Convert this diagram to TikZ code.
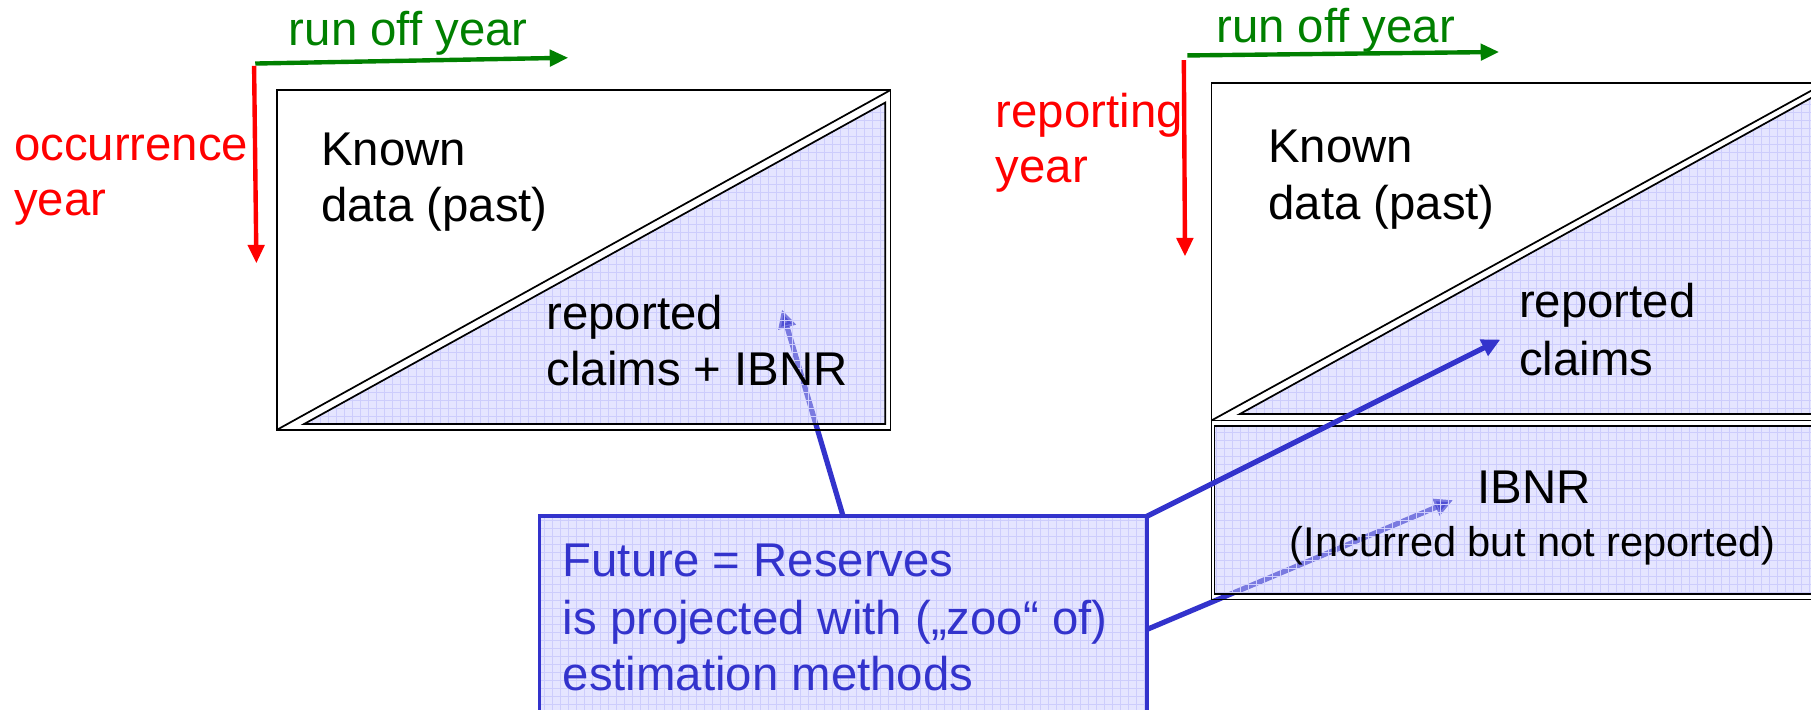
\documentclass[tikz,border=0pt]{standalone}
\usepackage{fontspec}
\setmainfont{Liberation Sans}
\usetikzlibrary{arrows.meta}
\definecolor{grn}{RGB}{0,128,0}
\definecolor{rd}{RGB}{255,0,0}
\definecolor{bl}{RGB}{51,51,204}
\definecolor{lav}{RGB}{229,229,255}
\definecolor{gridc}{RGB}{205,205,252}
\begin{document}
\begin{tikzpicture}[x=1pt,y=-1pt,
  lbl/.style={font=\fontsize{41}{49}\selectfont, inner sep=0pt, anchor=base west},
  smalllbl/.style={font=\fontsize{36}{44}\selectfont, inner sep=0pt, anchor=base},
  frame/.style={draw=black, line width=1.5pt},
  axisarrow/.style={line width=3.8pt, -{Triangle[length=16pt,width=14pt]}},
  conn/.style={draw=bl, line width=4.5pt, -{Triangle[length=16pt,width=15pt]}},
  gridlines/.style={draw=gridc, line width=0.6pt}
]
\useasboundingbox (0,0) rectangle (1568,614);

% ---- named points ----
\coordinate (g1s) at (221,55);  \coordinate (g1e) at (492,50);
\coordinate (r1s) at (220,57);  \coordinate (r1e) at (222,228);
\coordinate (g2s) at (1028,48); \coordinate (g2e) at (1298,45);
\coordinate (r2s) at (1025,52); \coordinate (r2e) at (1026,222);
\coordinate (c1s) at (730,447); \coordinate (c1e) at (677,268);
\coordinate (c2s) at (993,447); \coordinate (c2e) at (1299,294);
\coordinate (c3s) at (993,545); \coordinate (c3e) at (1258,433);

% ---- connectors lying under the shaded areas (opaque part) ----
\draw[conn] (c1s) -- (c1e);
\draw[conn] (c3s) -- (c3e);

% ---- fills ----
\path[fill=lav] (263.5,367) -- (766.5,88.8) -- (766.5,367) -- cycle;
\path[fill=lav] (1073.4,358.5) -- (1575,81) -- (1575,358.5) -- cycle;
\path[fill=lav] (1051.5,369) rectangle (1577,514.5);

% ---- connectors seen through the shading ----
\begin{scope}
  \clip (263.5,367) -- (766.5,88.8) -- (766.5,367) -- cycle;
  \draw[conn, draw opacity=0.6, fill opacity=0.6] (c1s) -- (c1e);
  \draw[gridlines] (240,60) grid[step=6.93pt] (780,380);
\end{scope}
\begin{scope}
  \clip (1073.4,358.5) -- (1575,81) -- (1575,358.5) -- cycle;
  \draw[gridlines] (1049,60) grid[step=6.93pt] (1590,370);
\end{scope}
\begin{scope}
  \clip (1051.5,369) rectangle (1577,514.5);
  \draw[conn, draw opacity=0.6, fill opacity=0.6] (c3s) -- (c3e);
  \draw[gridlines] (1049,360) grid[step=6.93pt] (1590,520);
\end{scope}

% ---- frames ----
\draw[frame] (240,78) rectangle (771,372);
\draw[frame] (240,372) -- (771,78);
\draw[frame, line join=miter] (263.5,367) -- (766.5,88.8) -- (766.5,367) -- cycle;
\draw[frame] (1049,72) rectangle (1580,364);
\draw[frame] (1049,364) -- (1580,72);
\draw[frame, line join=miter] (1073.4,358.5) -- (1575,81) -- (1575,358.5) -- cycle;
\draw[frame] (1049,364) rectangle (1580,519);
\draw[frame] (1051.5,369) rectangle (1577,514.5);

% ---- blue box ----
\path[fill=lav] (467,447) rectangle (993,630);
\begin{scope}
  \clip (467,447) rectangle (993,630);
  \draw[gridlines] (460,440) grid[step=6.93pt] (1000,640);
\end{scope}
\draw[draw=bl, line width=3.2pt] (467,630) -- (467,447) -- (993,447) -- (993,630);

% ---- connector drawn on top ----
\draw[conn] (c2s) -- (c2e);

% ---- axis arrows ----
\draw[axisarrow, grn] (g1s) -- (g1e);
\draw[axisarrow, rd] (r1s) -- (r1e);
\draw[axisarrow, grn] (g2s) -- (g2e);
\draw[axisarrow, rd] (r2s) -- (r2e);

% ---- texts ----
\node[lbl, text=grn] (t1) at (250,39) {run off year};
\node[lbl, text=grn] (t2) at (1053,37) {run off year};
\node[lbl, text=rd] (t3) at (12,139) {occurrence};
\node[lbl, text=rd] (t4) at (12,187) {year};
\node[lbl, text=rd] (t5) at (862,110) {reporting};
\node[lbl, text=rd] (t6) at (862,158) {year};
\node[lbl] (t7) at (278,143) {Known};
\node[lbl] (t8) at (278,192) {data (past)};
\node[lbl] (t9) at (1098,141) {Known};
\node[lbl] (t10) at (1098,190) {data (past)};
\node[lbl] (t11) at (473,285) {reported};
\node[lbl] (t12) at (473,334) {claims + IBNR};
\node[lbl] (t13) at (1315,275) {reported};
\node[lbl] (t14) at (1315,325) {claims};
\node[lbl, anchor=base] (t15) at (1328,436) {IBNR};
\node[smalllbl] (t16) at (1327,482) {(Incurred but not reported)};
\node[lbl, text=bl] (t17) at (487,499) {Future = Reserves};
\node[lbl, text=bl] (t18) at (487,549) {is projected with („zoo“ of)};
\node[lbl, text=bl] (t19) at (487,598) {estimation methods};
\end{tikzpicture}
\end{document}
